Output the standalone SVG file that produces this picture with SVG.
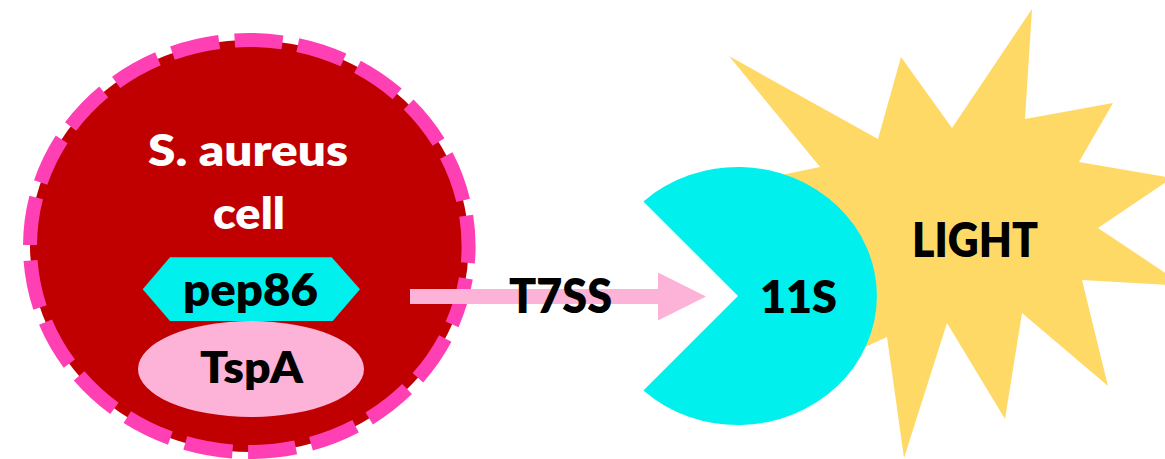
<svg xmlns="http://www.w3.org/2000/svg" width="1165" height="459" viewBox="0 0 1165 459">
  <style>
    .lbl { font-family: Lato, "Open Sans", "Liberation Sans", sans-serif; font-weight: 800; text-anchor: middle; fill: #000; }
    .white { fill: #fff; }
    .cyan { fill: #00F0EE; }
    .pink { fill: #FDB2D8; }
  </style>
  <defs>
    <marker id="head" markerUnits="userSpaceOnUse" viewBox="0 0 48 48" markerWidth="48" markerHeight="48" refX="0" refY="24" orient="auto">
      <path d="M0,0 L48,24 L0,48 Z" fill="#FDB2D8"/>
    </marker>
  </defs>

  <!-- burst of light behind the 11S fragment -->
  <g id="light">
    <polygon fill="#FFD966" points="729,56 878,139 901,57 952,128 1032,9 1025,119 1113,103 1079,162 1172,178 1098,228 1185,286 1082,280 1108,386 1022,313 1005,419 947,323 904,458 887,337 730,409 790,280 700,192 820,167"/>
    <text class="lbl" x="975" y="257" font-size="47" textLength="126" lengthAdjust="spacingAndGlyphs">LIGHT</text>
  </g>

  <!-- 11S fragment drawn as a pie with an open mouth -->
  <g id="s11">
    <path class="cyan" d="M738,296 L643.4,201.4 A139,129 0 1,1 643.4,390.6 Z"/>
    <text class="lbl" x="798.5" y="313" font-size="46" textLength="77" lengthAdjust="spacingAndGlyphs">11S</text>
  </g>

  <!-- bacterial cell with dashed membrane -->
  <g id="cell">
    <ellipse cx="249.3" cy="246" rx="219.3" ry="206" fill="#C00000" stroke="#FF40B4" stroke-width="14" stroke-dasharray="48 15.64" stroke-dashoffset="31"/>
    <text class="lbl white" x="248" y="166" font-size="44" textLength="200" lengthAdjust="spacingAndGlyphs">S. aureus</text>
    <text class="lbl white" x="249" y="229" font-size="44" textLength="72" lengthAdjust="spacingAndGlyphs">cell</text>
  </g>

  <g id="pep86">
    <polygon class="cyan" points="142.7,289.3 170,257.3 331.7,257.3 360,289.3 332.7,321 170,321"/>
    <text class="lbl" x="250.5" y="306" font-size="45" textLength="135" lengthAdjust="spacingAndGlyphs">pep86</text>
  </g>

  <g id="tspa">
    <ellipse class="pink" cx="251" cy="369" rx="113" ry="48"/>
    <text class="lbl" x="251.5" y="383" font-size="44" textLength="103" lengthAdjust="spacingAndGlyphs">TspA</text>
  </g>

  <!-- secretion route -->
  <g id="connectors">
    <line x1="410" y1="296.5" x2="658" y2="296.5" stroke="#FDB2D8" stroke-width="15" marker-end="url(#head)"/>
    <text class="lbl" x="560.5" y="313" font-size="47" textLength="103" lengthAdjust="spacingAndGlyphs">T7SS</text>
  </g>
</svg>
